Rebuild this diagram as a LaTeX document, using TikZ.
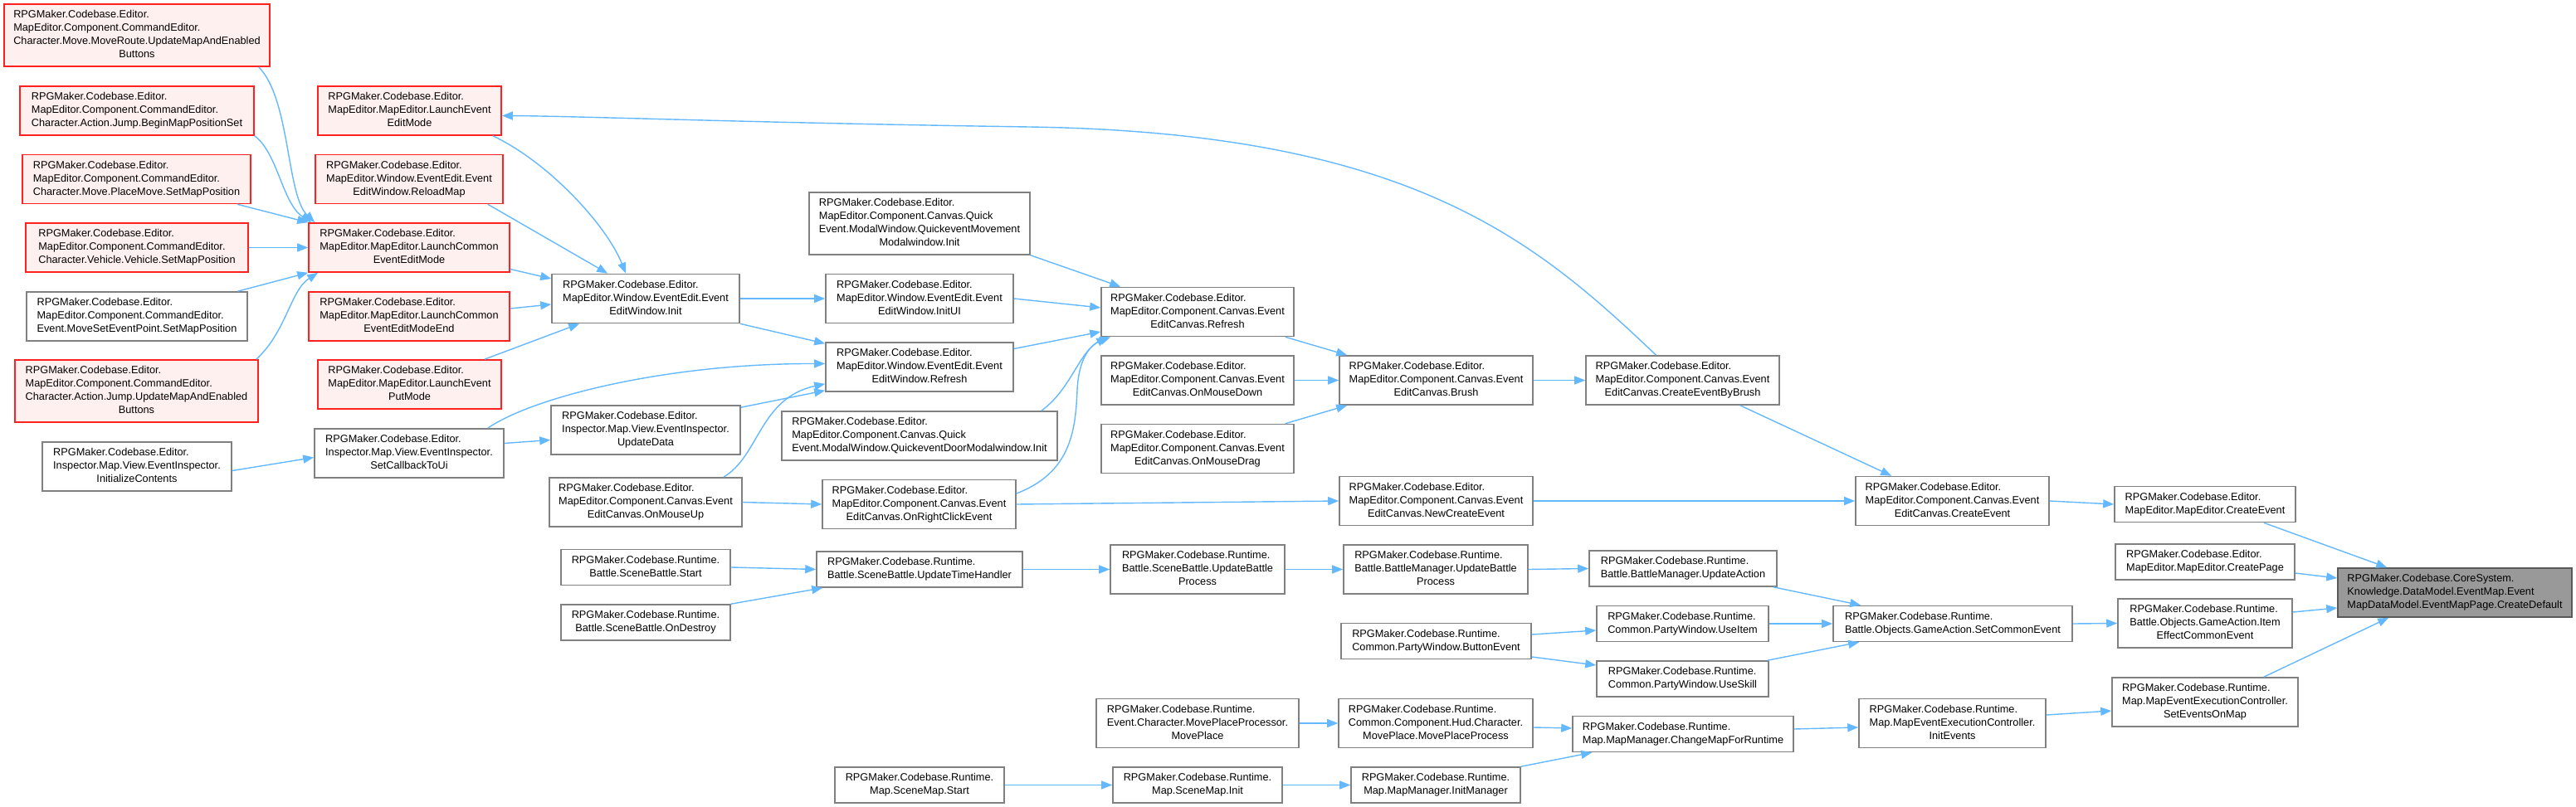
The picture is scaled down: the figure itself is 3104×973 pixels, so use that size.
\documentclass[tikz,border=0pt]{standalone}
\usepackage{fontspec}
\setmainfont{Liberation Sans}
\usetikzlibrary{arrows.meta}
\definecolor{callblue}{HTML}{63B8FF}
\definecolor{nodegray}{HTML}{808080}
\definecolor{undocred}{HTML}{FF2020}
\definecolor{undocfill}{HTML}{FFF0F0}
\definecolor{rootfill}{HTML}{999999}
% label: upper lines flush left, last line centred
\newcommand{\fnl}[2]{\begin{tabular}{@{}l@{}}#1\\\multicolumn{1}{@{}c@{}}{#2}\end{tabular}}

\begin{document}
\begin{tikzpicture}[x=0.5pt,y=-0.5pt,
  func/.style={draw=nodegray,line width=0.8pt,fill=white,inner xsep=2pt,inner ysep=2.75pt,font=\fontsize{6.37}{8}\selectfont},
  funcred/.style={func,draw=undocred,fill=undocfill},
  funcroot/.style={func,draw=gray!70!black,fill=rootfill},
  calls/.style={draw=callblue,line width=0.7pt,-{Triangle[length=6.5pt,width=5pt]}}]
  \useasboundingbox (0,0) rectangle (3104,973);

  % Column A
  \node[funcred,minimum width=160pt] (a1) at (165,42.5) {\fnl{RPGMaker.Codebase.Editor.\\MapEditor.Component.CommandEditor.\\Character.Move.MoveRoute.UpdateMapAndEnabled}{Buttons}};
  \node[funcred,minimum width=141pt] (a2) at (165,133.5) {\fnl{RPGMaker.Codebase.Editor.\\MapEditor.Component.CommandEditor.}{Character.Action.Jump.BeginMapPositionSet}};
  \node[funcred,minimum width=137.5pt] (a3) at (164.5,216) {\fnl{RPGMaker.Codebase.Editor.\\MapEditor.Component.CommandEditor.}{Character.Move.PlaceMove.SetMapPosition}};
  \node[funcred,minimum width=134pt] (a4) at (165,298.5) {\fnl{RPGMaker.Codebase.Editor.\\MapEditor.Component.CommandEditor.}{Character.Vehicle.Vehicle.SetMapPosition}};
  \node[func,minimum width=133pt] (a5) at (165,381.5) {\fnl{RPGMaker.Codebase.Editor.\\MapEditor.Component.CommandEditor.}{Event.MoveSetEventPoint.SetMapPosition}};
  \node[funcred,minimum width=146.5pt] (a6) at (164.5,471.5) {\fnl{RPGMaker.Codebase.Editor.\\MapEditor.Component.CommandEditor.\\Character.Action.Jump.UpdateMapAndEnabled}{Buttons}};
  \node[func,minimum width=114pt] (a7) at (165,562.5) {\fnl{RPGMaker.Codebase.Editor.\\Inspector.Map.View.EventInspector.}{InitializeContents}};

  % Column B
  \node[funcred,minimum width=110.5pt] (b1) at (493.5,133.5) {\fnl{RPGMaker.Codebase.Editor.\\MapEditor.MapEditor.LaunchEvent}{EditMode}};
  \node[funcred,minimum width=113pt] (b2) at (493,216) {\fnl{RPGMaker.Codebase.Editor.\\MapEditor.Window.EventEdit.Event}{EditWindow.ReloadMap}};
  \node[funcred,minimum width=121pt] (b3) at (493,298.5) {\fnl{RPGMaker.Codebase.Editor.\\MapEditor.MapEditor.LaunchCommon}{EventEditMode}};
  \node[funcred,minimum width=121pt] (b4) at (493,381.5) {\fnl{RPGMaker.Codebase.Editor.\\MapEditor.MapEditor.LaunchCommon}{EventEditModeEnd}};
  \node[funcred,minimum width=110.5pt] (b5) at (493.5,463.5) {\fnl{RPGMaker.Codebase.Editor.\\MapEditor.MapEditor.LaunchEvent}{PutMode}};
  \node[func,minimum width=114pt] (b6) at (493,546.5) {\fnl{RPGMaker.Codebase.Editor.\\Inspector.Map.View.EventInspector.}{SetCallbackToUi}};

  % Column C
  \node[func,minimum width=113pt] (c1) at (778,360) {\fnl{RPGMaker.Codebase.Editor.\\MapEditor.Window.EventEdit.Event}{EditWindow.Init}};
  \node[func,minimum width=114pt] (c2) at (778,518.5) {\fnl{RPGMaker.Codebase.Editor.\\Inspector.Map.View.EventInspector.}{UpdateData}};
  \node[func,minimum width=116pt] (c3) at (778,605.5) {\fnl{RPGMaker.Codebase.Editor.\\MapEditor.Component.Canvas.Event}{EditCanvas.OnMouseUp}};
  \node[func,minimum width=102pt] (c4) at (778,684) {\fnl{RPGMaker.Codebase.Runtime.}{Battle.SceneBattle.Start}};
  \node[func,minimum width=102pt] (c5) at (778,750.5) {\fnl{RPGMaker.Codebase.Runtime.}{Battle.SceneBattle.OnDestroy}};

  % Column D
  \node[func,minimum width=133pt] (d1) at (1108,269.5) {\fnl{RPGMaker.Codebase.Editor.\\MapEditor.Component.Canvas.Quick\\Event.ModalWindow.QuickeventMovement}{Modalwindow.Init}};
  \node[func,minimum width=113pt] (d2) at (1108,360) {\fnl{RPGMaker.Codebase.Editor.\\MapEditor.Window.EventEdit.Event}{EditWindow.InitUI}};
  \node[func,minimum width=113pt] (d3) at (1108,442.5) {\fnl{RPGMaker.Codebase.Editor.\\MapEditor.Window.EventEdit.Event}{EditWindow.Refresh}};
  \node[func,minimum width=166pt] (d4) at (1108,525.5) {\fnl{RPGMaker.Codebase.Editor.\\MapEditor.Component.Canvas.Quick}{Event.ModalWindow.QuickeventDoorModalwindow.Init}};
  \node[func,minimum width=116.5pt] (d5) at (1107.5,608) {\fnl{RPGMaker.Codebase.Editor.\\MapEditor.Component.Canvas.Event}{EditCanvas.OnRightClickEvent}};
  \node[func,minimum width=124pt] (d6) at (1108,686.5) {\fnl{RPGMaker.Codebase.Runtime.}{Battle.SceneBattle.UpdateTimeHandler}};
  \node[func,minimum width=102pt] (d7) at (1108,946.5) {\fnl{RPGMaker.Codebase.Runtime.}{Map.SceneMap.Start}};

  % Column E
  \node[func,minimum width=116pt] (e1) at (1443,376) {\fnl{RPGMaker.Codebase.Editor.\\MapEditor.Component.Canvas.Event}{EditCanvas.Refresh}};
  \node[func,minimum width=116pt] (e2) at (1443,458.5) {\fnl{RPGMaker.Codebase.Editor.\\MapEditor.Component.Canvas.Event}{EditCanvas.OnMouseDown}};
  \node[func,minimum width=116pt] (e3) at (1443,541) {\fnl{RPGMaker.Codebase.Editor.\\MapEditor.Component.Canvas.Event}{EditCanvas.OnMouseDrag}};
  \node[func,minimum width=105pt] (e4) at (1443,686.5) {\fnl{RPGMaker.Codebase.Runtime.\\Battle.SceneBattle.UpdateBattle}{Process}};
  \node[func,minimum width=122pt] (e5) at (1443,872) {\fnl{RPGMaker.Codebase.Runtime.\\Event.Character.MovePlaceProcessor.}{MovePlace}};
  \node[func,minimum width=102pt] (e6) at (1443,946.5) {\fnl{RPGMaker.Codebase.Runtime.}{Map.SceneMap.Init}};

  % Column F
  \node[func,minimum width=116.5pt] (f1) at (1730.5,458.5) {\fnl{RPGMaker.Codebase.Editor.\\MapEditor.Component.Canvas.Event}{EditCanvas.Brush}};
  \node[func,minimum width=116.5pt] (f2) at (1730.5,604) {\fnl{RPGMaker.Codebase.Editor.\\MapEditor.Component.Canvas.Event}{EditCanvas.NewCreateEvent}};
  \node[func,minimum width=111pt] (f3) at (1730,686.5) {\fnl{RPGMaker.Codebase.Runtime.\\Battle.BattleManager.UpdateBattle}{Process}};
  \node[func,minimum width=114.5pt] (f4) at (1730.5,773) {\fnl{RPGMaker.Codebase.Runtime.}{Common.PartyWindow.ButtonEvent}};
  \node[func,minimum width=117pt] (f5) at (1730,872) {\fnl{RPGMaker.Codebase.Runtime.\\Common.Component.Hud.Character.}{MovePlace.MovePlaceProcess}};
  \node[func,minimum width=102pt] (f6) at (1730,946.5) {\fnl{RPGMaker.Codebase.Runtime.}{Map.MapManager.InitManager}};

  % Column G
  \node[func,minimum width=116.5pt] (g1) at (2027.5,458.5) {\fnl{RPGMaker.Codebase.Editor.\\MapEditor.Component.Canvas.Event}{EditCanvas.CreateEventByBrush}};
  \node[func,minimum width=113pt] (g2) at (2028,685.5) {\fnl{RPGMaker.Codebase.Runtime.}{Battle.BattleManager.UpdateAction}};
  \node[func,minimum width=103.5pt] (g3) at (2027.5,752) {\fnl{RPGMaker.Codebase.Runtime.}{Common.PartyWindow.UseItem}};
  \node[func,minimum width=103.5pt] (g4) at (2027.5,818.5) {\fnl{RPGMaker.Codebase.Runtime.}{Common.PartyWindow.UseSkill}};
  \node[func,minimum width=133pt] (g5) at (2028,885) {\fnl{RPGMaker.Codebase.Runtime.}{Map.MapManager.ChangeMapForRuntime}};

  % Column H
  \node[func,minimum width=116.5pt] (h1) at (2352.5,604) {\fnl{RPGMaker.Codebase.Editor.\\MapEditor.Component.Canvas.Event}{EditCanvas.CreateEvent}};
  \node[func,minimum width=144pt] (h2) at (2353,752) {\fnl{RPGMaker.Codebase.Runtime.}{Battle.Objects.GameAction.SetCommonEvent}};
  \node[func,minimum width=112.5pt] (h3) at (2352.5,872) {\fnl{RPGMaker.Codebase.Runtime.\\Map.MapEventExecutionController.}{InitEvents}};

  % Column I and the root
  \node[func,minimum width=109pt] (i1) at (2657,608) {\fnl{RPGMaker.Codebase.Editor.}{MapEditor.MapEditor.CreateEvent}};
  \node[func,minimum width=108pt] (i2) at (2657,677.5) {\fnl{RPGMaker.Codebase.Editor.}{MapEditor.MapEditor.CreatePage}};
  \node[func,minimum width=105pt] (i3) at (2657,751.5) {\fnl{RPGMaker.Codebase.Runtime.\\Battle.Objects.GameAction.Item}{EffectCommonEvent}};
  \node[func,minimum width=112pt] (i4) at (2657,846.5) {\fnl{RPGMaker.Codebase.Runtime.\\Map.MapEventExecutionController.}{SetEventsOnMap}};
  \node[funcroot,minimum width=141pt] (j) at (2958,714.5) {\fnl{RPGMaker.Codebase.CoreSystem.\\Knowledge.DataModel.EventMap.Event}{MapDataModel.EventMapPage.CreateDefault}};

  % Calls into LaunchCommonEventEditMode
  \draw[calls] ([xshift=-7pt]a1.south east) .. controls (350,120) and (345,235) .. ([xshift=4pt]b3.north west);
  \draw[calls] (a2.south east) .. controls (335,185) and (340,245) .. ([xshift=2pt]b3.north west);
  \draw[calls] (a3.-14) -- (b3.north west);
  \draw[calls] (a4.east) -- (b3.west);
  \draw[calls] (a5.14) -- (b3.south west);
  \draw[calls] ([xshift=-1.5pt]a6.north east) .. controls (345,400) and (350,350) .. ([xshift=6pt]b3.south west);

  % Calls into EventEditWindow.Init
  \draw[calls] ([xshift=-5.5pt]b1.south east) .. controls (660,195) and (730,270) .. ([xshift=45pt]c1.north west);
  \draw[calls] ([xshift=-9.5pt]b2.south east) -- ([xshift=34pt]c1.north west);
  \draw[calls] ([yshift=-13pt]b3.east) -- ([yshift=12pt]c1.west);
  \draw[calls] ([yshift=4.75pt]b4.east) -- ([yshift=-3.5pt]c1.west);
  \draw[calls] ([xshift=-10.5pt]b5.north east) -- ([xshift=17pt]c1.south west);

  % Inspector
  \draw[calls] ([yshift=-2.5pt]a7.east) -- ([yshift=-2.5pt]b6.west);
  \draw[calls] ([yshift=6pt]b6.east) -- ([yshift=-6pt]c2.west);
  \draw[calls] ([xshift=-10pt]b6.north east) .. controls (640,480) and (800,438) .. ([yshift=2pt]d3.west);

  % EventEditWindow
  \draw[calls] (c1.east) -- (d2.west);
  \draw[calls] (c1.south east) -- ([yshift=-1pt]d3.north west);
  \draw[calls] ([yshift=-1.5pt]c2.north east) -- ([yshift=1pt]d3.south west);
  \draw[calls] ([xshift=-11.5pt]c3.north east) .. controls (915,550) and (915,480) .. ([yshift=5pt]d3.south west);
  \draw[calls] (c3.east) -- (d5.west);

  % EventEditCanvas.Refresh
  \draw[calls] (d1.south east) -- ([xshift=12pt]e1.north west);
  \draw[calls] (d2.east) -- ([yshift=2.5pt]e1.west);
  \draw[calls] ([yshift=11pt]d3.east) -- ([yshift=-12pt]e1.west);
  \draw[calls] ([xshift=-10pt]d4.north east) .. controls (1290,470) and (1300,425) .. ([xshift=4pt]e1.south west);
  \draw[calls] ([yshift=6.5pt]d5.east) .. controls (1290,570) and (1296,520) .. (1298,470)
    .. controls (1300,430) and (1315,415) .. ([xshift=6pt]e1.south west);
  \draw[calls] (d5.east) -- (f2.west);

  % Brush and CreateEvent
  \draw[calls] ([xshift=-5.5pt]e1.south east) -- ([xshift=5pt]f1.north west);
  \draw[calls] (e2.east) -- (f1.west);
  \draw[calls] ([xshift=-5.5pt]e3.north east) -- ([xshift=5pt]f1.south west);
  \draw[calls] (f1.east) -- (g1.west);
  \draw[calls] ([xshift=-24pt]g1.south east) -- ([xshift=22pt]h1.north west);
  \draw[calls] (f2.east) -- (h1.west);
  \draw[calls] (h1.east) -- (i1.west);
  \draw[calls] ([xshift=-16pt]g1.north) .. controls (1850,290) and (1700,160) .. (1240,153)
    .. controls (900,148) and (700,140) .. ([yshift=-3pt]b1.east);

  % Battle
  \draw[calls] (c4.east) -- (d6.west);
  \draw[calls] (c5.north east) -- ([xshift=4pt]d6.south west);
  \draw[calls] (d6.east) -- (e4.west);
  \draw[calls] (e4.east) -- (f3.west);
  \draw[calls] (f3.east) -- (g2.west);
  \draw[calls] ([xshift=-2.5pt]g2.south east) -- ([xshift=17pt]h2.north west);
  \draw[calls] ([yshift=4pt]f4.east) -- ([yshift=-4pt]g3.west);
  \draw[calls] ([yshift=-9.5pt]f4.east) -- ([yshift=8.25pt]g4.west);
  \draw[calls] (g3.east) -- (h2.west);
  \draw[calls] ([xshift=-1pt]g4.north east) -- ([xshift=16pt]h2.south west);
  \draw[calls] (h2.east) -- (i3.west);

  % Map
  \draw[calls] (d7.east) -- (e6.west);
  \draw[calls] (e6.east) -- (f6.west);
  \draw[calls] (e5.east) -- (f5.west);
  \draw[calls] ([yshift=-2.5pt]f5.east) -- ([yshift=3.5pt]g5.west);
  \draw[calls] (f6.north east) -- ([xshift=12pt]g5.south west);
  \draw[calls] ([yshift=3pt]g5.east) -- ([yshift=-2.5pt]h3.west);
  \draw[calls] ([yshift=5pt]h3.east) -- ([yshift=-5.25pt]i4.west);

  % Into CreateDefault
  \draw[calls] ([xshift=-19.5pt]i1.south east) -- ([xshift=30pt]j.north west);
  \draw[calls] ([yshift=-6.75pt]i2.east) -- ([yshift=8.75pt]j.west);
  \draw[calls] ([yshift=6.75pt]i3.east) -- ([yshift=-9.25pt]j.west);
  \draw[calls] ([xshift=-21pt]i4.north east) -- ([xshift=31pt]j.south west);
\end{tikzpicture}
\end{document}
